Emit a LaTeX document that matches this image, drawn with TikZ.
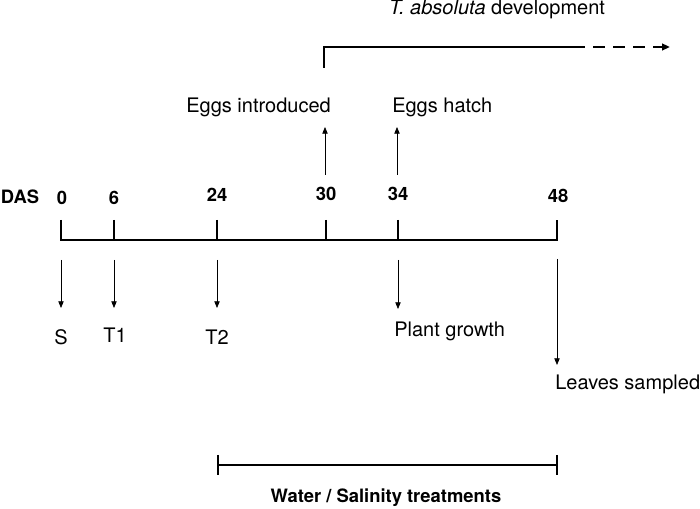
\documentclass[tikz,border=0pt]{standalone}
\usepackage{fontspec}
\setmainfont{TeX Gyre Heros}
\usetikzlibrary{arrows.meta}
\begin{document}
\begin{tikzpicture}[x=0.75pt,y=-0.75pt,
  txt/.style={font=\fontsize{15}{17}\selectfont, inner sep=0pt, anchor=base},
  btxt/.style={font=\fontsize{13.8}{16}\selectfont\bfseries, inner sep=0pt, anchor=base},
  ltxt/.style={font=\fontsize{15}{17}\selectfont, inner sep=0pt, anchor=base west},
  heavy/.style={line width=1.5pt},
  arr/.style={line width=0.6pt, -{Triangle[length=5pt,width=4pt]}}]
\useasboundingbox (0,0) rectangle (700,509);

% axis labels
\node[btxt] (das) at (20,204) {DAS};
\node[btxt] (l0) at (62,205) {0};
\node[btxt] (l6) at (114,205) {6};
\node[btxt] (l24) at (217,202) {24};
\node[btxt] (l30) at (326,201) {30};
\node[btxt] (l34) at (398,201) {34};
\node[btxt] (l48) at (558,203) {48};

% axis
\coordinate (t0) at (61,220);
\coordinate (b0) at (61,240);
\coordinate (t6) at (114,220);
\coordinate (b6) at (114,240);
\coordinate (t24) at (217,220);
\coordinate (b24) at (217,240);
\coordinate (t30) at (326,220);
\coordinate (b30) at (326,240);
\coordinate (t34) at (398,220);
\coordinate (b34) at (398,240);
\coordinate (t48) at (557,220);
\coordinate (b48) at (557,240);
\draw[heavy] (t0) -- (b0) -- (b48) -- (t48);
\draw[heavy] (t6) -- (b6);
\draw[heavy] (t24) -- (b24);
\draw[heavy] (t30) -- (b30);
\draw[heavy] (t34) -- (b34);

% down arrows
\coordinate (d0s) at (61,260);  \coordinate (d0e) at (61,308);
\coordinate (d6s) at (114,260); \coordinate (d6e) at (114,308);
\coordinate (d24s) at (217,260); \coordinate (d24e) at (217,308);
\coordinate (d34s) at (398,260); \coordinate (d34e) at (398,309);
\coordinate (d48s) at (557,259); \coordinate (d48e) at (557,365);
\draw[arr] (d0s) -- (d0e);
\draw[arr] (d6s) -- (d6e);
\draw[arr] (d24s) -- (d24e);
\draw[arr] (d34s) -- (d34e);
\draw[arr] (d48s) -- (d48e);

\node[txt] (S) at (61,345) {S};
\node[txt] (T1) at (115,343) {T1};
\node[txt] (T2) at (217,345) {T2};
\node[ltxt] (pg) at (394,337) {Plant growth};
\node[ltxt] (ls) at (555,390) {Leaves sampled};

% up arrows
\coordinate (u30s) at (325,175); \coordinate (u30e) at (325,127);
\coordinate (u34s) at (397,175); \coordinate (u34e) at (397,127);
\draw[arr] (u30s) -- (u30e);
\draw[arr] (u34s) -- (u34e);
\node[txt, anchor=base east] (ei) at (331,113) {Eggs introduced};
\node[ltxt] (eh) at (392,113) {Eggs hatch};

% T. absoluta development
\node[txt] (tad) at (497,15) {\textit{T. absoluta} development};
\coordinate (ta0) at (324,68);
\coordinate (ta1) at (324,47);
\coordinate (ta2) at (585,47);
\coordinate (ta3) at (670,47);
\draw[heavy] (ta0) -- (ta1) -- (ta2);
\draw[heavy, dash pattern=on 9pt off 6pt, -{Triangle[length=6pt,width=5pt]}] ([xshift=6pt]ta2) -- (ta3);

% water / salinity
\coordinate (w0t) at (218,455); \coordinate (w0b) at (218,475);
\coordinate (w1t) at (557,455); \coordinate (w1b) at (557,475);
\coordinate (w0) at (218,465); \coordinate (w1) at (557,465);
\draw[heavy] (w0t) -- (w0b);
\draw[heavy] (w1t) -- (w1b);
\draw[heavy] (w0) -- (w1);
\node[btxt] (ws) at (386,503) {Water / Salinity treatments};
\end{tikzpicture}
\end{document}
